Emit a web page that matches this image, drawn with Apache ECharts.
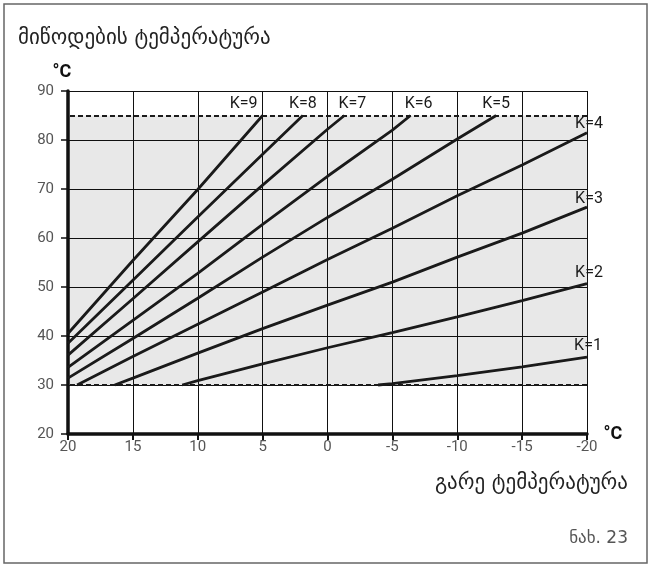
<!DOCTYPE html>
<html>
<head>
<meta charset="utf-8">
<script src="https://cdn.jsdelivr.net/npm/echarts@6/dist/echarts.min.js"></script>
<style>
  html, body { margin: 0; padding: 0; background: #fff; }
  #chart { width: 650px; height: 566px; }
</style>
</head>
<body>
<div id="chart"></div>
<script>
// heating curves: [outdoor temp, supply temp]
const k1 = [[-3.9, 30], [-5, 30.3], [-10, 31.9], [-15, 33.7], [-20, 35.7]]
const k2 = [[11.2, 30], [10, 30.9], [5, 34.3], [0, 37.6], [-5, 40.7], [-10, 43.9], [-15, 47.2], [-20, 50.7]]
const k3 = [[16.4, 30], [15, 31.4], [10, 36.5], [5, 41.5], [0, 46.3], [-5, 51.0], [-10, 56.1], [-15, 61.0], [-20, 66.3]]
const k4 = [[19.3, 30], [15, 35.8], [10, 42.4], [5, 49.0], [0, 55.6], [-5, 62.0], [-10, 68.6], [-15, 74.9], [-20, 81.5]]
const k5 = [[20, 31.4], [15, 39.5], [10, 47.7], [5, 56.1], [0, 64.2], [-5, 72.0], [-10, 80.2], [-13, 85]]
const k6 = [[20, 33.6], [15, 43.2], [10, 52.8], [5, 62.8], [0, 72.6], [-5, 82.0], [-6.4, 85]]
const k7 = [[20, 36.1], [15, 47.6], [10, 59.2], [5, 70.8], [0, 82.2], [-1.3, 85]]
const k8 = [[20, 38.5], [15, 51.4], [10, 64.3], [5, 77.1], [1.9, 85]]
const k9 = [[20, 40.5], [15, 55.4], [10, 69.9], [5, 85]]

const curveNames = ['K=1', 'K=2', 'K=3', 'K=4', 'K=5', 'K=6', 'K=7', 'K=8', 'K=9']
const curves = [k1, k2, k3, k4, k5, k6, k7, k8, k9]
const labelOffsets = [[1, -11], [2, -11], [2, -8], [2, -9], [0, -12], [8, -12], [8, -12], [0, -12], [-19, -12]]

const minSupply = 30
const maxSupply = 85

const chart = echarts.init(document.getElementById('chart'))

const series = curves.map((pts, i) => {
  const data = pts.map((p, j) => {
    if (j !== pts.length - 1) return p
    return {
      value: p,
      label: {
        show: true,
        formatter: curveNames[i],
        position: 'inside',
        offset: labelOffsets[i],
        color: '#1a1a1a',
        fontSize: 16,
        fontFamily: 'Roboto'
      }
    }
  })
  return {
    name: curveNames[i],
    type: 'line',
    data: data,
    showSymbol: true,
    symbolSize: 0,
    silent: true,
    z: 3,
    lineStyle: { color: '#1a1a1a', width: 2.8 }
  }
})

// shaded operating band and its dashed limits
series.push({
  type: 'line',
  data: [],
  silent: true,
  z: 2,
  markArea: {
    silent: true,
    itemStyle: { color: 'rgba(0,0,0,0.09)' },
    data: [[{ xAxis: 20, yAxis: minSupply }, { xAxis: -20, yAxis: maxSupply }]]
  },
  markLine: {
    silent: true,
    symbol: 'none',
    label: { show: false },
    lineStyle: { color: '#1a1a1a', type: [5, 3], width: 2 },
    data: [{ yAxis: minSupply }, { yAxis: maxSupply }]
  }
})

chart.setOption({
  animation: false,
  grid: { left: 68, right: 63, top: 91, bottom: 132 },
  graphic: [
    {
      type: 'rect',
      shape: { x: 4, y: 4, width: 643, height: 559 },
      style: { fill: 'none', stroke: '#666', lineWidth: 1.5 }
    },
    {
      type: 'text', left: 18, top: 28,
      style: { text: 'მიწოდების ტემპერატურა', fontSize: 21, fontFamily: 'DejaVu Sans', fill: '#222' }
    },
    {
      type: 'text', right: 22, top: 473,
      style: { text: 'გარე ტემპერატურა', fontSize: 21, fontFamily: 'DejaVu Sans', fill: '#222' }
    },
    {
      type: 'text', right: 22, top: 530,
      style: { text: 'ნახ. 23', fontSize: 17, fontFamily: 'DejaVu Sans', fill: '#555' }
    }
  ],
  xAxis: {
    type: 'value',
    inverse: true,
    min: -20,
    max: 20,
    interval: 5,
    name: '°C',
    nameLocation: 'start',
    nameGap: 8,
    nameTextStyle: { color: '#111', fontWeight: 'bold', fontSize: 18, fontFamily: 'Roboto', padding: [12, 0, 0, 0] },
    axisLine: { onZero: false, lineStyle: { color: '#111', width: 3.5 } },
    axisTick: { show: true, length: 6, lineStyle: { color: '#111', width: 2 } },
    axisLabel: { color: '#555', fontSize: 15, fontFamily: 'Roboto', margin: 6 },
    splitLine: { show: true, lineStyle: { color: '#111', width: 1 } }
  },
  yAxis: {
    type: 'value',
    min: 20,
    max: 90,
    interval: 10,
    name: '°C',
    nameLocation: 'end',
    nameGap: 10,
    nameTextStyle: { color: '#111', fontWeight: 'bold', fontSize: 18, fontFamily: 'Roboto', padding: [0, 12, 0, 0] },
    axisLine: { show: true, onZero: false, lineStyle: { color: '#111', width: 3.5 } },
    axisTick: { show: true, length: 7, lineStyle: { color: '#111', width: 1.5 } },
    axisLabel: { color: '#555', fontSize: 15, fontFamily: 'Roboto', margin: 14 },
    splitLine: { show: true, lineStyle: { color: '#111', width: 1 } }
  },
  series: series
})
</script>
</body>
</html>
